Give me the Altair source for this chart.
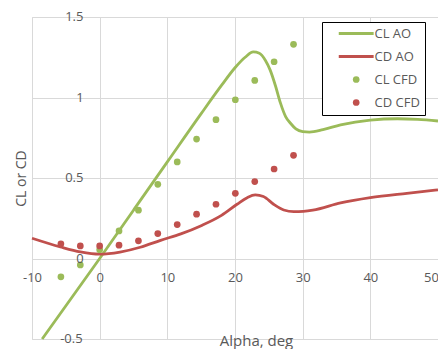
import altair as alt
import pandas as pd

# ---- data ----
cl_ao_alpha = [-8.5, 0, 5, 10, 15, 18, 20, 21.5, 22.7, 23.6, 24.5, 25.2, 26, 26.7,
               27.5, 28.2, 29, 30, 31, 33, 35.6, 40, 44, 47, 50]
cl_ao = [-0.5, 0.0, 0.30, 0.60, 0.90, 1.075, 1.185, 1.25, 1.283, 1.275, 1.23, 1.17,
         1.07, 0.968, 0.88, 0.84, 0.805, 0.788, 0.785, 0.80, 0.83, 0.86, 0.868, 0.864, 0.854]

cd_ao_alpha = [-10, -5.8, -2.85, 0, 3, 6, 9, 12, 15, 18, 20.3, 21.8, 23, 24.2, 25.7,
               27.2, 28.7, 30.1, 31.5, 35.6, 40, 45.4, 50]
cd_ao = [0.126, 0.072, 0.041, 0.027, 0.04, 0.07, 0.113, 0.153, 0.204, 0.268, 0.337,
         0.378, 0.395, 0.385, 0.337, 0.301, 0.291, 0.293, 0.30, 0.345, 0.378, 0.405, 0.426]

cfd_alpha = [-5.73, -2.86, 0, 2.86, 5.73, 8.59, 11.46, 14.32, 17.19, 20.05, 22.92, 25.78, 28.65]
cl_cfd = [-0.114, -0.04, 0.055, 0.171, 0.30, 0.461, 0.60, 0.742, 0.862, 0.986, 1.106, 1.222, 1.33]
cd_cfd = [0.091, 0.078, 0.078, 0.083, 0.11, 0.155, 0.211, 0.275, 0.337, 0.405, 0.478, 0.556, 0.641]

x_ticks = [-10, 0, 10, 20, 30, 40, 50]
y_ticks = [-0.5, 0, 0.5, 1, 1.5]
y_tick_labels = ["-0.5", "0", "0.5", "1", "1.5"]

series = ["CL AO", "CD AO", "CL CFD", "CD CFD"]
colors = ["#9BBB59", "#C0504D", "#9BBB59", "#C0504D"]
line_sym = "M-5.2,-0.42H5.2V0.42H-5.2Z"
shapes = [line_sym, line_sym, "circle", "circle"]

lines = pd.concat([
    pd.DataFrame({"alpha": cl_ao_alpha, "value": cl_ao, "series": "CL AO"}),
    pd.DataFrame({"alpha": cd_ao_alpha, "value": cd_ao, "series": "CD AO"}),
])
points = pd.concat([
    pd.DataFrame({"alpha": cfd_alpha, "value": cl_cfd, "series": "CL CFD"}),
    pd.DataFrame({"alpha": cfd_alpha, "value": cd_cfd, "series": "CD CFD"}),
])
ylab = pd.DataFrame({"alpha": [0.0] * len(y_ticks), "value": y_ticks, "label": y_tick_labels})

W, H = 406, 322
TXT = "#595959"
FONT = "Open Sans"


def build(cond_offset=True):
    legend = alt.Legend(
        title=None, orient="none", legendX=290, legendY=5,
        strokeColor="black", fillColor="white", padding=5,
        symbolOffset=22.7, labelOffset=11.8, symbolSize=45, symbolStrokeWidth=0,
        labelFont=FONT, labelFontSize=13, labelColor=TXT, rowPadding=9,
        labelExpr="datum.label + '\u00a0\u00a0'",
        symbolOpacity=1,
    )
    x_axis_kw = dict(values=x_ticks, title="Alpha, deg", offset=-80.5,
                     grid=True, gridColor="#D9D9D9", domain=False, ticks=False,
                     labelFlush=False, labelOverlap=False, labelPadding=12.5,
                     labelExpr="'' + datum.value",
                     labelFont=FONT, labelFontSize=13, labelColor=TXT,
                     titleFont=FONT, titleFontSize=15, titleFontWeight="normal",
                     titleColor=TXT, titleX=224, titleY=86.5, titleBaseline="alphabetic",
                     titleAlign="center")
    if cond_offset:
        x_axis_kw["labelOffset"] = {"condition": {"test": "datum.value == 50", "value": -7},
                                    "value": 0}
    x_enc = alt.X("alpha:Q", scale=alt.Scale(domain=[-10, 50], nice=False),
                  axis=alt.Axis(**x_axis_kw))
    y_enc = alt.Y("value:Q", scale=alt.Scale(domain=[-0.5, 1.5], nice=False),
                  axis=alt.Axis(values=y_ticks, title="CL or CD", labels=False,
                                grid=True, gridColor="#D9D9D9", domain=False, ticks=False,
                                titleFont=FONT, titleFontSize=14, titleFontWeight="normal",
                                titleColor=TXT, titleX=-10.5, titleY=161, titleAngle=-90,
                                titleBaseline="middle", titleAlign="center"))

    line_layer = alt.Chart(lines).mark_line(strokeWidth=2.8, interpolate="monotone").encode(
        x=x_enc, y=y_enc,
        stroke=alt.Stroke("series:N", scale=alt.Scale(domain=series[:2], range=colors[:2]),
                          legend=None),
        detail="series:N")
    point_layer = alt.Chart(points).mark_point(size=45, filled=True, opacity=1,
                                               strokeWidth=0).encode(
        x="alpha:Q", y="value:Q",
        color=alt.Color("series:N", scale=alt.Scale(domain=series, range=colors), legend=legend),
        shape=alt.Shape("series:N", scale=alt.Scale(domain=series, range=shapes), legend=legend))

    # y tick labels, left-aligned text placed so that each ends just left of the x=0 line
    def ylab_layer(labels, dx):
        return alt.Chart(ylab).transform_filter(
            alt.FieldOneOfPredicate(field="label", oneOf=labels)
        ).mark_text(align="left", baseline="middle", dx=dx,
                    font=FONT, fontSize=13, color=TXT).encode(
            x="alpha:Q", y="value:Q", text="label:N")

    ylabs = [ylab_layer(["1.5", "0.5"], -34.5), ylab_layer(["1", "0"], -23.5),
             ylab_layer(["-0.5"], -39.5)]

    return alt.layer(line_layer, point_layer, *ylabs).properties(
        width=W, height=H,
        autosize=alt.AutoSizeParams(type="none"),
        padding={"left": 24, "top": 9, "right": 0, "bottom": 10},
    ).configure_view(stroke=None).configure(background="white")


chart = build(True)
try:
    chart.to_dict()
except Exception:
    chart = build(False)

chart.save("out.html", embed_options={"renderer": "svg", "actions": False})
